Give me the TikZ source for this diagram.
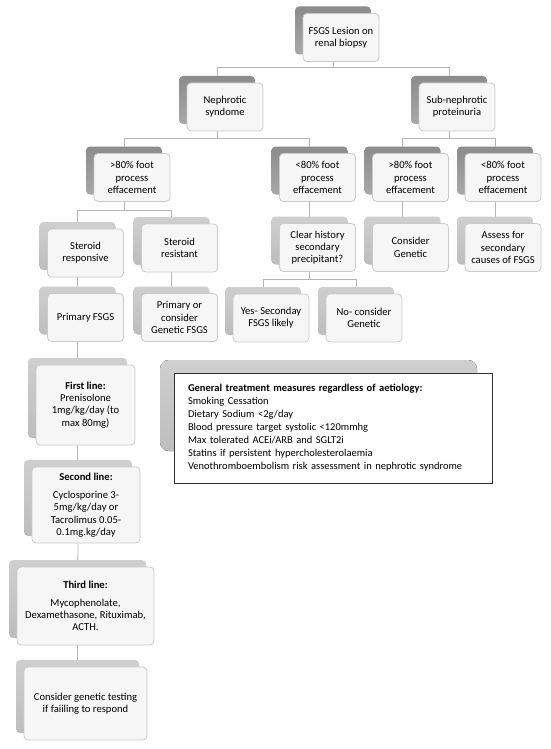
\documentclass[tikz,border=0pt]{standalone}
\usepackage{fontspec}
\setmainfont{Carlito}
\usetikzlibrary{shadows,backgrounds}
\definecolor{shadedark}{HTML}{8C8C8C}
\definecolor{shadedarkB}{HTML}{A8A8A8}
\definecolor{shadelight}{HTML}{BDBDBD}
\definecolor{shadelightB}{HTML}{CFCFCF}
\definecolor{cardfill}{HTML}{F6F6F6}
\definecolor{cardline}{HTML}{CACACA}
\definecolor{connline}{HTML}{B5B5B5}
\tikzset{
  card/.style      = {draw=cardline, line width=0.8pt, fill=cardfill, rounded corners=4pt,
                      minimum width=76pt, minimum height=48pt, inner sep=1pt, align=center,
                      font=\fontsize{10.6}{12.3}\selectfont},
  darkcard/.style  = {card, copy shadow={shadow xshift=-8pt, shadow yshift=7pt, draw=none,
                      top color=shadedark, bottom color=shadedarkB}},
  lightcard/.style = {card, copy shadow={shadow xshift=-8pt, shadow yshift=7pt, draw=none,
                      top color=shadelightB, bottom color=shadelight}},
  conn/.style      = {draw=connline, line width=0.8pt},
  notebox/.style   = {draw=black!80, line width=0.9pt, fill=white, minimum height=110pt,
                      inner xsep=14pt, text width=290pt, align=left,
                      font=\fontsize{10.5}{13}\selectfont},
}

\begin{document}
\begin{tikzpicture}[x=1pt, y=-1pt]
  \useasboundingbox (0,0) rectangle (550,749);

  % upper tiers
  \node[darkcard] (top)  at (341,37.5)   {FSGS Lesion on\\renal biopsy};
  \node[darkcard] (neph) at (225,107)    {Nephrotic\\syndome};
  \node[darkcard] (subn) at (457,107)    {Sub-nephrotic\\proteinuria};
  \node[darkcard] (gtL)  at (132,177.5)  {>80\% foot\\process\\effacement};
  \node[darkcard] (ltM)  at (317.5,177.5) {<80\% foot\\process\\effacement};
  \node[darkcard] (gtR)  at (410.5,177.5) {>80\% foot\\process\\effacement};
  \node[darkcard] (ltR)  at (503,177.5)  {<80\% foot\\process\\effacement};

  % lower tiers
  \node[lightcard] (resp)    at (85.5,253)   {Steroid\\responsive};
  \node[lightcard] (resist)  at (179.5,248)  {Steroid\\resistant};
  \node[lightcard] (clear)   at (317.5,247.5) {Clear history\\secondary\\precipitant?};
  \node[lightcard] (congen)  at (410.5,247.5) {Consider\\Genetic};
  \node[lightcard] (assess)  at (503,247.5)  {Assess for\\secondary\\causes of FSGS};
  \node[lightcard] (prim)    at (85.5,317.5) {Primary FSGS};
  \node[lightcard] (primgen) at (179.5,317.5) {Primary or\\consider\\Genetic FSGS};
  \node[lightcard] (yes)     at (271,318)    {Yes- Seconday\\FSGS likely};
  \node[lightcard] (no)      at (364,318)    {No- consider\\Genetic};

  % treatment ladder
  \node[lightcard, minimum width=99pt, minimum height=80pt] (first) at (85.5,405)
    {\textbf{First line:}\\Prenisolone\\1mg/kg/day (to\\max 80mg)};
  \node[lightcard, minimum width=108pt, minimum height=76pt] (second) at (86,505)
    {\textbf{Second line:}\\[6pt]Cyclosporine 3-\\5mg/kg/day or\\Tacrolimus 0.05-\\0.1mg.kg/day};
  \node[lightcard, minimum width=137pt, minimum height=78pt] (third) at (85.5,606)
    {\textbf{Third line:}\\[5pt]Mycophenolate,\\Dexamethasone, Rituximab,\\ACTH.};
  \node[lightcard, minimum width=123pt, minimum height=73pt] (fourth) at (85.5,703.5)
    {Consider genetic testing\\if faiiling to respond};

  % general measures
  \fill[rounded corners=9pt, top color=shadelightB, bottom color=shadelight]
    (160,360) rectangle (477,451);
  \node[notebox] (general) at (333,428)
    {\textbf{General treatment measures regardless of aetiology:}\\
     Smoking Cessation\\
     Dietary Sodium <2g/day\\
     Blood pressure target systolic <120mmhg\\
     Max tolerated ACEi/ARB and SGLT2i\\
     Statins if persistent hypercholesterolaemia\\
     Venothromboembolism risk assessment in nephrotic syndrome};

  \begin{scope}[on background layer]
    \draw[conn] ([xshift=-8pt]top.south)  -- ++(0,5.5) -| ([xshift=-8pt]neph.center);
    \draw[conn] ([xshift=-8pt]top.south)  -- ++(0,5.5) -| ([xshift=-8pt]subn.center);
    \draw[conn] ([xshift=-8pt]neph.south) -- ++(0,7) -| ([xshift=-8pt]gtL.center);
    \draw[conn] ([xshift=-8pt]neph.south) -- ++(0,7) -| ([xshift=-8pt]ltM.center);
    \draw[conn] ([xshift=-8pt]subn.south) -- ++(0,7) -| ([xshift=-8pt]gtR.center);
    \draw[conn] ([xshift=-8pt]subn.south) -- ++(0,7) -| ([xshift=-8pt]ltR.center);
    \draw[conn] ([xshift=-8pt]gtL.south)  -- ++(0,8.5) -| ([xshift=-8pt]resp.center);
    \draw[conn] ([xshift=-8pt]gtL.south)  -- ++(0,8.5) -| ([xshift=-8pt]resist.center);
    \draw[conn] ([xshift=-8pt]ltM.south)  -- ([xshift=-8pt]clear.center);
    \draw[conn] ([xshift=-8pt]gtR.south)  -- ([xshift=-8pt]congen.center);
    \draw[conn] ([xshift=-8pt]ltR.south)  -- ([xshift=-8pt]assess.center);
    \draw[conn] ([xshift=-8pt]clear.south) -- ++(0,7.5) -| ([xshift=-8pt]yes.center);
    \draw[conn] ([xshift=-8pt]clear.south) -- ++(0,7.5) -| ([xshift=-8pt]no.center);
    \draw[conn] ([xshift=-8pt]resp.south)   -- ([xshift=-8pt]prim.center);
    \draw[conn] ([xshift=-8pt]resist.south) -- ([xshift=-8pt]primgen.center);
    \draw[conn] ([xshift=-8pt]prim.south)   -- ([xshift=-8pt]first.center);
    \draw[conn] ([xshift=-8pt]first.south)  -- ([xshift=-8pt]second.center);
    \draw[conn] ([xshift=-8pt]second.south) -- ([xshift=-8pt]third.center);
    \draw[conn] ([xshift=-8pt]third.south)  -- ([xshift=-8pt]fourth.center);
  \end{scope}
\end{tikzpicture}
\end{document}
